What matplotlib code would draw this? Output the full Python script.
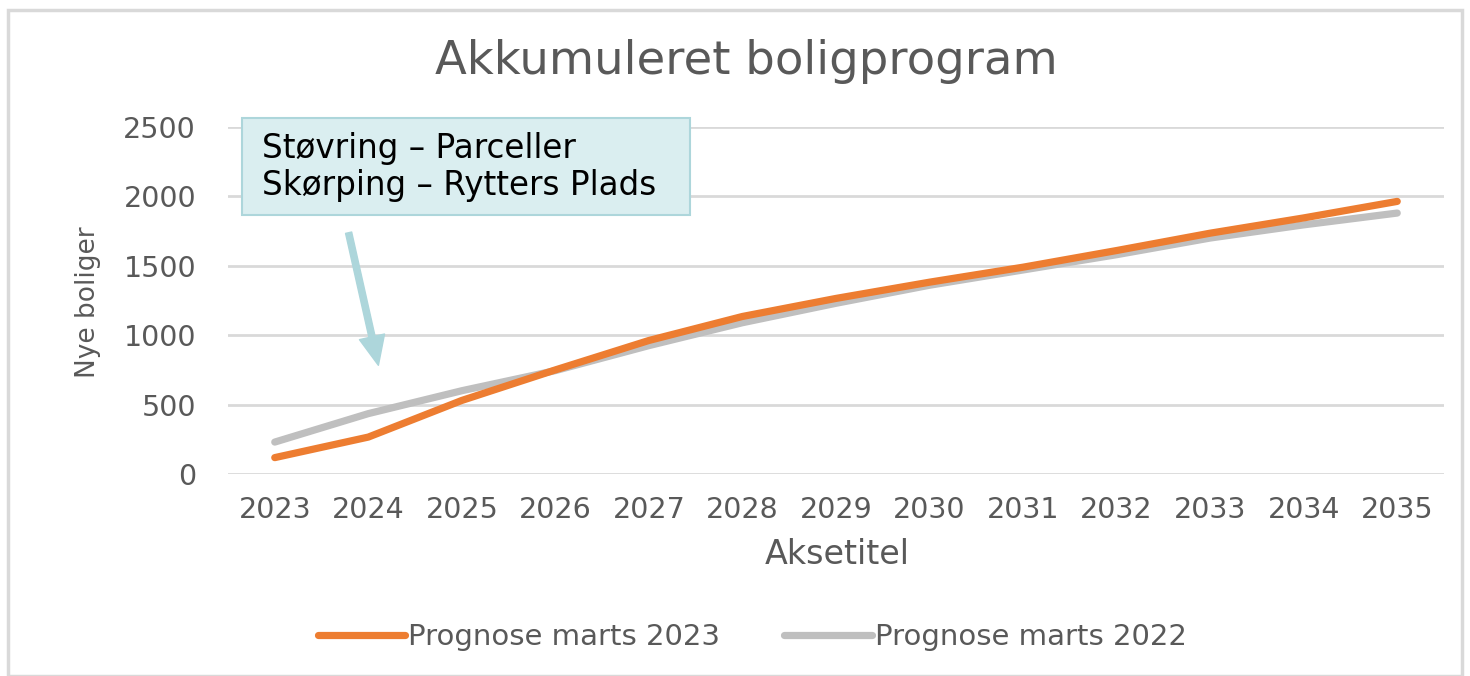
import matplotlib.pyplot as plt
from matplotlib.patches import Rectangle, FancyArrowPatch

# -----------------------------------
# Data
# -----------------------------------

years = ["2023", "2024", "2025", "2026", "2027", "2028", "2029",
         "2030", "2031", "2032", "2033", "2034", "2035"]

prognose_2023 = [118, 266, 530, 750, 962, 1135, 1265, 1382, 1490, 1610, 1735, 1845, 1964]
prognose_2022 = [230, 435, 600, 745, 925, 1090, 1230, 1360, 1470, 1580, 1700, 1795, 1880]

series_names = ["Prognose marts 2023", "Prognose marts 2022"]
y_ticks = [0, 500, 1000, 1500, 2000, 2500]

# -----------------------------------
# Figure
# -----------------------------------

W, H = 1470, 676
fig = plt.figure(figsize=(W / 100, H / 100), dpi=100)

# outer chart frame
fig.patches.append(Rectangle((8 / W, 0), (1462 - 8) / W, 1 - 10 / H,
                             transform=fig.transFigure, fill=False,
                             edgecolor="#D9D9D9", linewidth=2.5))

ax = fig.add_axes([228 / W, 1 - 474 / H, (1444 - 228) / W, (474 - 127) / H])

x = list(range(len(years)))
ax.plot(x, prognose_2022, color="#BFBFBF", linewidth=5.2,
        solid_capstyle="round", label=series_names[1], zorder=3)
ax.plot(x, prognose_2023, color="#ED7D31", linewidth=5.2,
        solid_capstyle="round", label=series_names[0], zorder=4)

ax.set_xlim(-0.5, len(years) - 0.5)
ax.set_ylim(0, 2500)
ax.set_xticks(x)
ax.set_xticklabels(years)
ax.set_yticks(y_ticks)

for s in ax.spines.values():
    s.set_visible(False)
ax.grid(axis="y", color="#D9D9D9", linewidth=2)
ax.set_axisbelow(True)
ax.tick_params(length=0, labelsize=20.5, labelcolor="#595959")
ax.tick_params(axis="x", pad=16)
ax.tick_params(axis="y", pad=23)

fig.text(746 / W, 1 - 62 / H, "Akkumuleret boligprogram", ha="center",
         va="center", fontsize=33.5, color="#595959")
fig.text(837 / W, 1 - 555 / H, "Aksetitel", ha="center", va="center",
         fontsize=24, color="#595959")
fig.text(88 / W, 1 - 302 / H, "Nye boliger", ha="center", va="center",
         rotation=90, fontsize=19, color="#595959")

# legend
leg = fig.legend(handles=[ax.lines[1], ax.lines[0]], labels=series_names,
                 loc="center", bbox_to_anchor=(752 / W, 1 - 637 / H),
                 ncol=2, frameon=False, handlelength=3.0, handletextpad=0.1,
                 columnspacing=2.2, prop={"size": 21})
for t in leg.get_texts():
    t.set_color("#595959")

# annotation box and arrow
fig.patches.append(Rectangle((242 / W, 1 - 215 / H), (690 - 242) / W, (215 - 118) / H,
                             transform=fig.transFigure, facecolor="#DAEEF0",
                             edgecolor="#ADD6DB", linewidth=1.5, zorder=5))
fig.text(262 / W, 1 - 167 / H, "Støvring – Parceller\nSkørping – Rytters Plads",
         ha="left", va="center", fontsize=23.5, color="black",
         linespacing=1.12, zorder=6)
fig.patches.append(FancyArrowPatch((348 / W, 1 - 230 / H), (379 / W, 1 - 368 / H),
                                   transform=fig.transFigure,
                                   arrowstyle="simple,head_length=2.1,head_width=1.85,tail_width=0.45",
                                   mutation_scale=10, color="#ADD6DB", zorder=5))

fig.savefig("out.png", dpi=100)
